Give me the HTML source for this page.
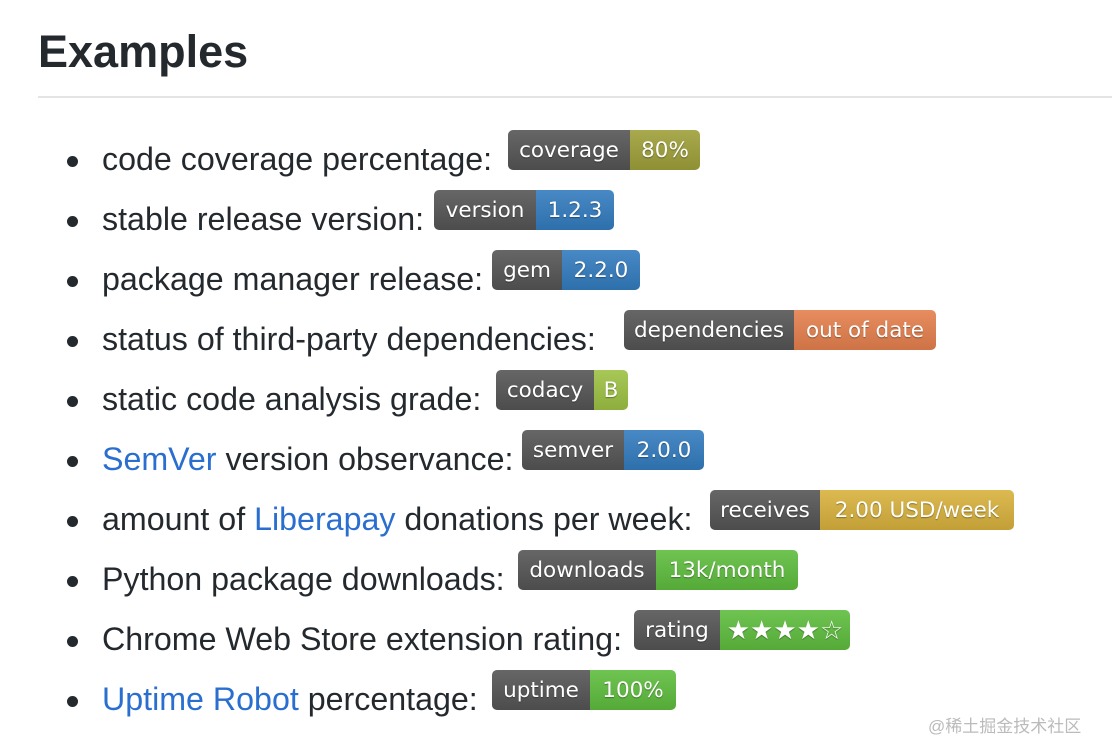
<!DOCTYPE html>
<html><head><meta charset="utf-8"><style>
body{margin:0;width:1112px;height:756px;background:#fff;position:relative;overflow:hidden;font-family:"Liberation Sans",Arial,sans-serif;color:#24292e}
h1{position:absolute;left:38px;top:22px;margin:0;font-size:45px;font-weight:bold;line-height:60px}
.hr{position:absolute;left:38px;right:0;top:96px;height:2px;background:#e4e4e4}
.row{position:absolute;left:102px;font-size:32.2px;line-height:40px;white-space:nowrap}
.row:before{content:"";position:absolute;left:-35px;top:17px;width:11px;height:11px;border-radius:50%;background:#24292e}
a{color:#2a6fd0;text-decoration:none}
.b{position:absolute;height:40px;display:flex;border-radius:5px;overflow:hidden;font-family:"DejaVu Sans",Verdana,sans-serif;font-size:21.5px;color:#fff;text-shadow:0 1px 1px rgba(0,0,0,.35);line-height:42px}
.b span{display:block;text-align:center;background-image:linear-gradient(rgba(255,255,255,.1),rgba(0,0,0,.1))}
.l{background-color:#555}
.st{font-size:26px}
.wm{position:absolute;left:928px;top:712px;font-size:17px;color:#bbb;font-family:"Liberation Sans","Noto Sans CJK SC",sans-serif}
</style></head><body>
<h1>Examples</h1><div class="hr"></div>

<div class="row" style="top:139px">code coverage percentage:</div>
<div class="b" style="left:508px;top:130px"><span class="l" style="width:122px">coverage</span><span style="width:70px;background-color:#9fa03a">80%</span></div>

<div class="row" style="top:199px">stable release version:</div>
<div class="b" style="left:434px;top:190px"><span class="l" style="width:102px">version</span><span style="width:78px;background-color:#337cbf">1.2.3</span></div>

<div class="row" style="top:259px">package manager release:</div>
<div class="b" style="left:492px;top:250px"><span class="l" style="width:70px">gem</span><span style="width:78px;background-color:#337cbf">2.2.0</span></div>

<div class="row" style="top:319px">status of third-party dependencies:</div>
<div class="b" style="left:624px;top:310px"><span class="l" style="width:170px">dependencies</span><span style="width:142px;background-color:#e4804e">out of date</span></div>

<div class="row" style="top:379px">static code analysis grade:</div>
<div class="b" style="left:496px;top:370px"><span class="l" style="width:98px">codacy</span><span style="width:34px;background-color:#9dc243">B</span></div>

<div class="row" style="top:439px"><a>SemVer</a> version observance:</div>
<div class="b" style="left:522px;top:430px"><span class="l" style="width:102px">semver</span><span style="width:80px;background-color:#337cbf">2.0.0</span></div>

<div class="row" style="top:499px">amount of <a>Liberapay</a> donations per week:</div>
<div class="b" style="left:710px;top:490px"><span class="l" style="width:110px">receives</span><span style="width:194px;background-color:#d8b23d">2.00 USD/week</span></div>

<div class="row" style="top:559px">Python package downloads:</div>
<div class="b" style="left:518px;top:550px"><span class="l" style="width:138px">downloads</span><span style="width:142px;background-color:#5ebd3e">13k/month</span></div>

<div class="row" style="top:619px">Chrome Web Store extension rating:</div>
<div class="b" style="left:634px;top:610px"><span class="l" style="width:86px">rating</span><span class="st" style="width:130px;background-color:#5ebd3e">★★★★☆</span></div>

<div class="row" style="top:679px"><a>Uptime Robot</a> percentage:</div>
<div class="b" style="left:492px;top:670px"><span class="l" style="width:98px">uptime</span><span style="width:86px;background-color:#5ebd3e">100%</span></div>

<div class="wm">@稀土掘金技术社区</div>
</body></html>
